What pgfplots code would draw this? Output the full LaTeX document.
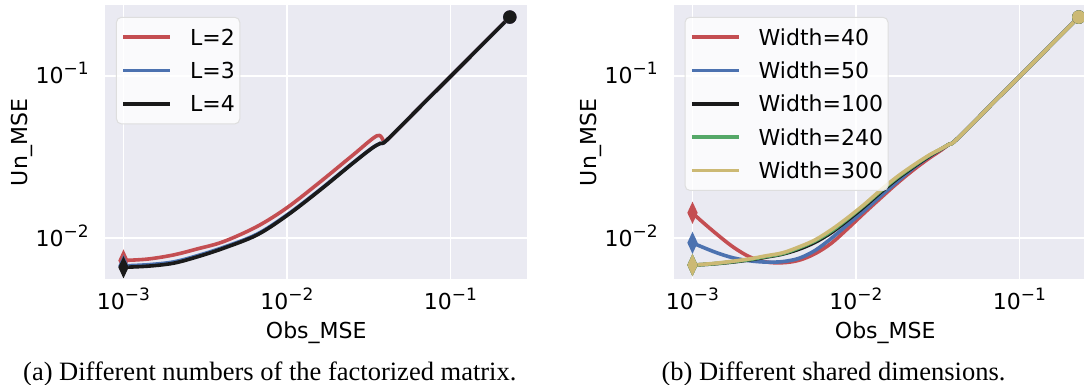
\documentclass[border=0pt]{standalone}
\usepackage{fontspec}
\setmainfont{DejaVu Sans}
\newfontfamily\capfont{Liberation Serif}
\usepackage{pgfplots}
\pgfplotsset{compat=1.18}
\usepackage{pgfplotstable}
\definecolor{sbred}{HTML}{C44E52}
\definecolor{sbblue}{HTML}{4C72B0}
\definecolor{sbgreen}{HTML}{55A868}
\definecolor{sbblack}{HTML}{1A1A1A}
\definecolor{sbyellow}{HTML}{CCB974}
\definecolor{sbbg}{HTML}{EAEAF2}
\newcommand\ff{\fontsize{11bp}{13bp}\selectfont}
\newcommand\pw[1]{10\raisebox{0.42em}{\fontsize{8.5bp}{9bp}\selectfont −#1}}

% ---- left panel: different L ----
\pgfplotstableread{
x y
0.001 0.007295
0.0014125 0.007447
0.002018 0.007889
0.0028184 0.00859
0.004083 0.009528
0.006546 0.01180
0.01 0.01542
0.015849 0.02213
0.025119 0.03236
0.03556 0.04285
0.03899 0.03990
0.04093 0.04036
0.06855 0.0679
0.1 0.0993
0.2307 0.2307
}\Lred
\pgfplotstableread{
x y
0.001 0.006761
0.0014125 0.006871
0.002018 0.007145
0.0028184 0.007798
0.004083 0.00879
0.006546 0.01059
0.01 0.01393
0.015849 0.01986
0.025119 0.02897
0.033113 0.03597
0.03724 0.03846
0.04093 0.04036
0.06855 0.0679
0.1 0.0993
0.2307 0.2307
}\Lblue
\pgfplotstableread{
x y
0.001 0.006622
0.0014125 0.006730
0.002018 0.007015
0.0028184 0.007674
0.004083 0.00867
0.006546 0.01047
0.01 0.0138
0.015849 0.01972
0.025119 0.02884
0.033113 0.03589
0.03724 0.03846
0.04093 0.04036
0.06855 0.0679
0.1 0.0993
0.2307 0.2307
}\Lblack

% ---- right panel: different widths ----
\pgfplotstableread{
x y
0.001 0.014355
0.001122 0.012882
0.0014125 0.010568
0.0017783 0.0088105
0.0022387 0.0076736
0.0028184 0.007145
0.0035481 0.0070632
0.0044668 0.0073114
0.0056234 0.0080353
0.0070795 0.0093325
0.0089125 0.011482
0.01122 0.014289
0.014125 0.01766
0.017783 0.021727
0.022387 0.026303
0.028184 0.031261
0.033113 0.034834
0.03724 0.038019
0.04093 0.04036
0.06855 0.0679
0.1 0.0993
0.2307 0.2307
}\Rred
\pgfplotstableread{
x y
0.001 0.0093756
0.001122 0.0089125
0.0014125 0.0081283
0.0017783 0.0075683
0.0022387 0.0072611
0.0028184 0.0071285
0.0035481 0.0071779
0.0044668 0.0075162
0.0056234 0.008414
0.0070795 0.01
0.0089125 0.012162
0.01122 0.014791
0.014125 0.018197
0.017783 0.022233
0.022387 0.02704
0.028184 0.031989
0.033113 0.035318
0.03724 0.038019
0.04093 0.04036
0.06855 0.0679
0.1 0.0993
0.2307 0.2307
}\Rblue
\pgfplotstableread{
x y
0.001 0.0068391
0.001122 0.0068707
0.0014125 0.0069823
0.0017783 0.007145
0.0022387 0.0073621
0.0028184 0.007656
0.0035481 0.0079799
0.0044668 0.0085507
0.0056234 0.0094406
0.0070795 0.010839
0.0089125 0.012942
0.01122 0.015631
0.014125 0.019143
0.017783 0.023174
0.022387 0.027416
0.028184 0.032137
0.033113 0.0354
0.03724 0.038019
0.04093 0.04036
0.06855 0.0679
0.1 0.0993
0.2307 0.2307
}\Rblack
\pgfplotstableread{
x y
0.001 0.0068391
0.001122 0.0068707
0.0014125 0.0069984
0.0017783 0.0071779
0.0022387 0.0073961
0.0028184 0.007709
0.0035481 0.0080353
0.0044668 0.0087096
0.0056234 0.0096383
0.0070795 0.011066
0.0089125 0.013213
0.01122 0.015959
0.014125 0.019498
0.017783 0.02355
0.022387 0.027797
0.028184 0.032434
0.033113 0.035481
0.03724 0.038019
0.04093 0.04036
0.06855 0.0679
0.1 0.0993
0.2307 0.2307
}\Rgreen
\pgfplotstableread{
x y
0.001 0.0068391
0.001122 0.0068865
0.0014125 0.0070307
0.0017783 0.0072277
0.0022387 0.0074645
0.0028184 0.0077983
0.0035481 0.0081283
0.0044668 0.0088308
0.0056234 0.0097724
0.0070795 0.011298
0.0089125 0.013397
0.01122 0.016144
0.014125 0.01977
0.017783 0.023878
0.022387 0.028119
0.028184 0.032659
0.033113 0.035563
0.03724 0.038019
0.04093 0.04036
0.06855 0.0679
0.1 0.0993
0.2307 0.2307
}\Ryellow

\pgfplotsset{
  myln/.style={line width=1.8bp, line join=round, no markers, smooth, tension=0.55},
  myst/.style={only marks, mark=diamond*, mark size=4.6bp, mark options={xscale=0.62, line width=0.8bp}, forget plot, skip coords between index={1}{1000}},
  myen/.style={only marks, mark=*, mark size=3bp, mark options={line width=0.7bp}, forget plot, skip coords between index={0}{#1}},
}

\begin{document}
\begin{tikzpicture}
\useasboundingbox (0,0) rectangle (542bp,192.5bp);
\pgfplotsset{
  every axis/.append style={
    xmode=log, ymode=log,
    scale only axis, width=211.25bp, height=137.15bp,
    xmin=7.709e-4, xmax=0.2958, ymin=5.585e-3, ymax=0.2738,
    axis background/.style={fill=sbbg},
    axis line style={draw=none},
    tick style={draw=none},
    major tick length=0pt, minor tick length=0pt,
    xmajorgrids=true, ymajorgrids=true, xminorgrids=false, yminorgrids=false,
    grid style={white, line width=0.8bp},
    xtick={0.001,0.01,0.1}, ytick={0.01,0.1},
    xticklabels={\pw{3},\pw{2},\pw{1}},
    yticklabels={\pw{2},\pw{1}},
    xticklabel style={font=\ff, anchor=base, inner sep=0pt, yshift=-15bp},
    yticklabel style={font=\ff, anchor=base east, inner sep=0pt, xshift=-8bp, yshift=-4bp},
    xlabel={Obs\_MSE}, ylabel={Un\_MSE},
    xlabel style={font=\ff, at={(axis description cs:0.5,-0.214)}, anchor=base, inner sep=0pt},
    ylabel style={font=\ff, at={(axis description cs:-0.1834,0.5)}, anchor=base, inner sep=0pt},
    legend cell align=left,
    legend style={anchor=north west, draw=black!13, line width=0.5bp, fill=white, fill opacity=0.8, text opacity=1,
      rounded corners=2.5bp, font=\ff, inner xsep=2.5bp, inner ysep=6bp, row sep=8.65bp, column sep=9bp,
      nodes={inner sep=0pt, text height=8bp, text depth=0pt}},
  },
  legend image code/.code={\draw[#1, line width=1.8bp] (0bp,0bp) -- (23.5bp,0bp);},
}
\begin{axis}[at={(52.5bp,52.85bp)}, anchor=south west,
  legend style={at={(axis description cs:0.026,0.957)}}]
\addplot[myln, sbred] table {\Lred};
\addlegendentry{L=2}
\addplot[myst, sbred] table {\Lred};
\addplot[myen={14}, sbred] table {\Lred};
\addplot[myln, sbblue] table {\Lblue};
\addlegendentry{L=3}
\addplot[myst, sbblue] table {\Lblue};
\addplot[myen={14}, sbblue] table {\Lblue};
\addplot[myln, sbblack] table {\Lblack};
\addlegendentry{L=4}
\addplot[myst, sbblack] table {\Lblack};
\addplot[myen={14}, sbblack] table {\Lblack};
\end{axis}

\begin{axis}[at={(337bp,52.85bp)}, anchor=south west,
  legend style={at={(axis description cs:0.025,0.957)}}]
\addplot[myln, sbred] table {\Rred};
\addlegendentry{Width=40}
\addplot[myst, sbred] table {\Rred};
\addplot[myen={21}, sbred] table {\Rred};
\addplot[myln, sbblue] table {\Rblue};
\addlegendentry{Width=50}
\addplot[myst, sbblue] table {\Rblue};
\addplot[myen={21}, sbblue] table {\Rblue};
\addplot[myln, sbblack] table {\Rblack};
\addlegendentry{Width=100}
\addplot[myst, sbblack] table {\Rblack};
\addplot[myen={21}, sbblack] table {\Rblack};
\addplot[myln, sbgreen] table {\Rgreen};
\addlegendentry{Width=240}
\addplot[myst, sbgreen] table {\Rgreen};
\addplot[myen={21}, sbgreen] table {\Rgreen};
\addplot[myln, sbyellow] table {\Ryellow};
\addlegendentry{Width=300}
\addplot[myst, sbyellow] table {\Ryellow};
\addplot[myen={21}, sbyellow] table {\Ryellow};
\end{axis}

\node[font=\capfont\fontsize{13.25bp}{15bp}\selectfont, anchor=base, inner sep=0pt] at (134.9bp,2.5bp) {(a) Different numbers of the factorized matrix.};
\node[font=\capfont\fontsize{13.25bp}{15bp}\selectfont, anchor=base, inner sep=0pt] at (416.75bp,2.5bp) {(b) Different shared dimensions.};
\end{tikzpicture}
\end{document}
